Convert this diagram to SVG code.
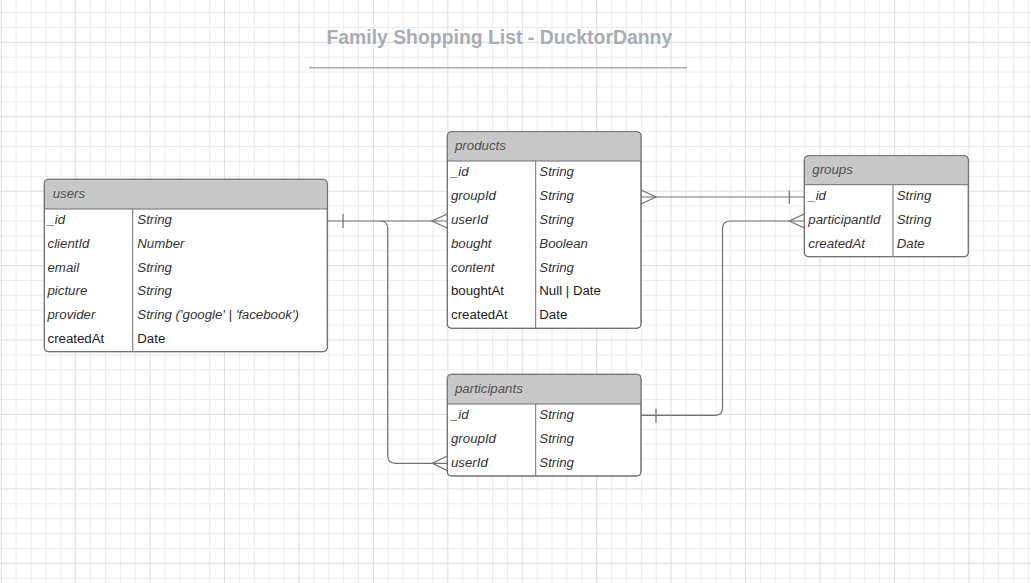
<svg xmlns="http://www.w3.org/2000/svg" width="1031" height="583" viewBox="0 0 1031 583">
  <defs>
    <pattern id="grid" patternUnits="userSpaceOnUse" x="0.77" y="41.8" width="74.43" height="74.43">
      <path d="M15.386 0V74.43M30.27 0V74.43M45.16 0V74.43M60.04 0V74.43M0 15.386H74.43M0 30.27H74.43M0 45.16H74.43M0 60.04H74.43" stroke="#ececec" stroke-width="1" fill="none"/>
      <path d="M0.5 0V74.43M0 0.5H74.43" stroke="#dcdcdc" stroke-width="1" fill="none"/>
    </pattern>
    <style>
      .box { fill: #ffffff; stroke: #6f6f6f; stroke-width: 1; }
      .head { fill: #c8c8c8; }
      .sep { stroke: #6f6f6f; stroke-width: 1; fill: none; }
      .ht { font-family: "Liberation Sans", Arial, sans-serif; font-size: 13.25px; font-style: italic; fill: #505050; }
      .it { font-family: "Liberation Sans", Arial, sans-serif; font-size: 13.25px; font-style: italic; fill: #333333; }
      .rt { font-family: "Liberation Sans", Arial, sans-serif; font-size: 13.25px; fill: #1a1a1a; }
      .conn { stroke: #707070; stroke-width: 1.2; fill: none; }
    </style>
  </defs>
  <rect x="0" y="0" width="1031" height="583" fill="#ffffff"/>
  <rect x="0" y="0" width="1031" height="583" fill="url(#grid)"/>

  <g id="title">
    <text x="499.3" y="44" text-anchor="middle" font-family="Liberation Sans, Arial, sans-serif" font-weight="bold" font-size="19.4" fill="#a8adb5">Family Shopping List - DucktorDanny</text>
    <line x1="309" y1="67.7" x2="687" y2="67.7" stroke="#a8adb5" stroke-width="1.5"/>
  </g>

  <g id="connectors">
    <path class="conn" d="M327.3 221H447.3"/>
    <path class="conn" d="M343 214V228"/>
    <path class="conn" d="M447.3 214L432 221L447.3 228"/>
    <path class="conn" d="M380 221Q387.7 221 387.7 229V455.5Q387.7 463.3 395.5 463.3H447.3"/>
    <path class="conn" d="M447.3 456L432.3 463.3L447.3 470.6"/>
    <path class="conn" d="M641 197H804.3"/>
    <path class="conn" d="M641 190L656 197L641 204"/>
    <path class="conn" d="M789.3 190.5V204"/>
    <path class="conn" d="M804.3 221H730Q722.5 221 722.5 228.5V408Q722.5 415.3 715 415.3H641"/>
    <path class="conn" d="M804.3 214L789.3 221L804.3 228"/>
    <path class="conn" d="M656 408.5V423"/>
  </g>

  <g id="users">
    <rect class="box" x="44.3" y="179.3" width="283" height="172.4" rx="4"/>
    <path class="head" d="M44.8 209V183.3Q44.8 179.8 48.3 179.8H323.3Q326.8 179.8 326.8 183.3V209Z"/>
    <rect class="box" x="44.3" y="179.3" width="283" height="172.4" rx="4" style="fill:none"/>
    <path class="sep" d="M44.3 209H327.3M132.7 209V351.7"/>
    <text class="ht" x="52.7" y="197.7">users</text>
    <text class="it" x="47.5" y="223.9">_id</text><text class="it" x="137.3" y="223.9">String</text>
    <text class="it" x="47.5" y="247.7">clientId</text><text class="it" x="137.3" y="247.7">Number</text>
    <text class="it" x="47.5" y="271.5">email</text><text class="it" x="137.3" y="271.5">String</text>
    <text class="it" x="47.5" y="295.3">picture</text><text class="it" x="137.3" y="295.3">String</text>
    <text class="it" x="47.5" y="319.1">provider</text><text class="it" x="137.3" y="319.1">String ('google' | 'facebook')</text>
    <text class="rt" x="47.5" y="342.9">createdAt</text><text class="rt" x="137.3" y="342.9">Date</text>
  </g>

  <g id="products">
    <rect class="box" x="447.3" y="131.7" width="193.7" height="196.6" rx="4"/>
    <path class="head" d="M447.8 161V135.7Q447.8 132.2 451.3 132.2H637Q640.5 132.2 640.5 135.7V161Z"/>
    <rect class="box" x="447.3" y="131.7" width="193.7" height="196.6" rx="4" style="fill:none"/>
    <path class="sep" d="M447.3 161H641M535.7 161V328.3"/>
    <text class="ht" x="455" y="150">products</text>
    <text class="it" x="451" y="176">_id</text><text class="it" x="539.3" y="176">String</text>
    <text class="it" x="451" y="199.9">groupId</text><text class="it" x="539.3" y="199.9">String</text>
    <text class="it" x="451" y="223.8">userId</text><text class="it" x="539.3" y="223.8">String</text>
    <text class="it" x="451" y="247.6">bought</text><text class="it" x="539.3" y="247.6">Boolean</text>
    <text class="it" x="451" y="271.5">content</text><text class="it" x="539.3" y="271.5">String</text>
    <text class="rt" x="451" y="295.4">boughtAt</text><text class="rt" x="539.3" y="295.4">Null | Date</text>
    <text class="rt" x="451" y="319.3">createdAt</text><text class="rt" x="539.3" y="319.3">Date</text>
  </g>

  <g id="groups">
    <rect class="box" x="804.3" y="155.7" width="164" height="101" rx="4"/>
    <path class="head" d="M804.8 184.7V159.7Q804.8 156.2 808.3 156.2H964.3Q967.8 156.2 967.8 159.7V184.7Z"/>
    <rect class="box" x="804.3" y="155.7" width="164" height="101" rx="4" style="fill:none"/>
    <path class="sep" d="M804.3 184.7H968.3M893 184.7V256.7"/>
    <text class="ht" x="812.3" y="173.7">groups</text>
    <text class="it" x="808.3" y="199.7">_id</text><text class="it" x="896.7" y="199.7">String</text>
    <text class="it" x="808.3" y="223.7">participantId</text><text class="it" x="896.7" y="223.7">String</text>
    <text class="it" x="808.3" y="247.7">createdAt</text><text class="it" x="896.7" y="247.7">Date</text>
  </g>

  <g id="participants">
    <rect class="box" x="447.3" y="374.3" width="193.7" height="101.7" rx="4"/>
    <path class="head" d="M447.8 404V378.3Q447.8 374.8 451.3 374.8H637Q640.5 374.8 640.5 378.3V404Z"/>
    <rect class="box" x="447.3" y="374.3" width="193.7" height="101.7" rx="4" style="fill:none"/>
    <path class="sep" d="M447.3 404H641M535.7 404V476"/>
    <text class="ht" x="455" y="392.7">participants</text>
    <text class="it" x="451" y="419">_id</text><text class="it" x="539.3" y="419">String</text>
    <text class="it" x="451" y="443">groupId</text><text class="it" x="539.3" y="443">String</text>
    <text class="it" x="451" y="467">userId</text><text class="it" x="539.3" y="467">String</text>
  </g>
</svg>
